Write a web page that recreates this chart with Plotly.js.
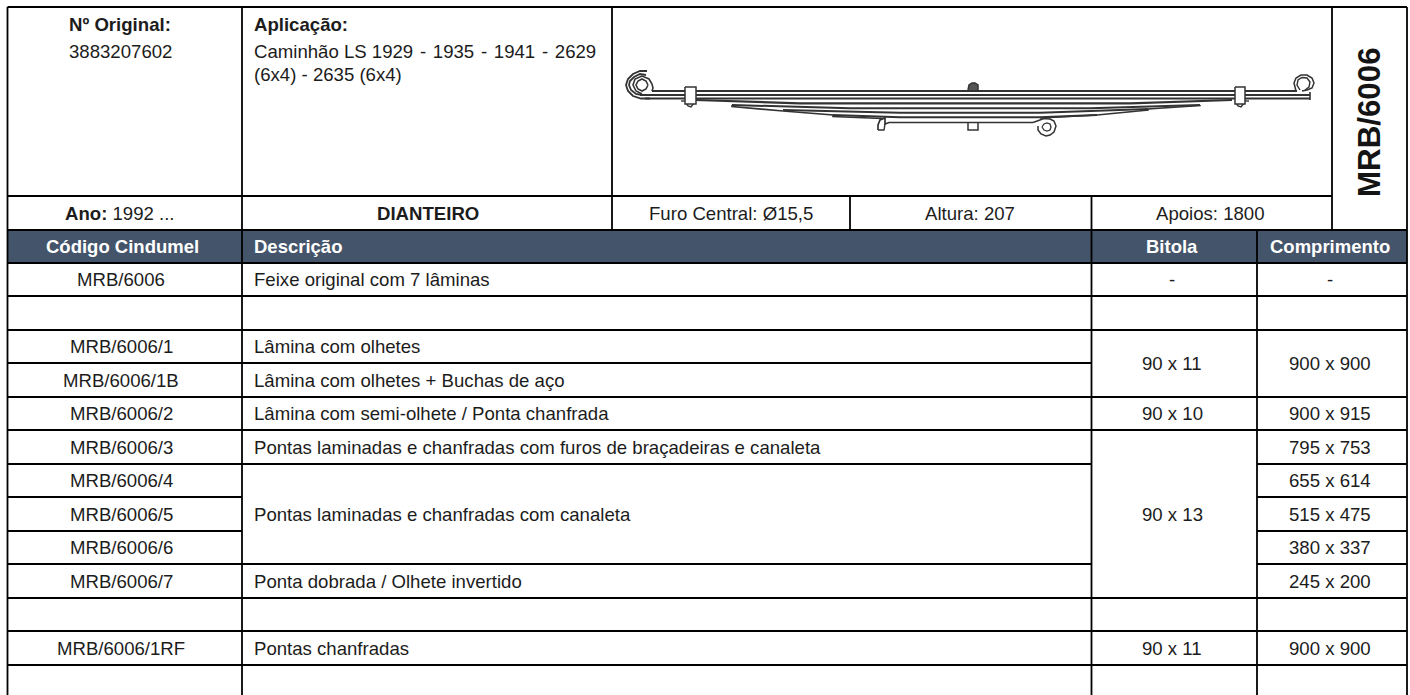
<!DOCTYPE html>
<html><head><meta charset="utf-8">
<script src="https://cdn.plot.ly/plotly-3.0.1.min.js"></script>
<style>html,body{margin:0;padding:0;background:#fff}#c{width:1410px;height:695px}</style>
</head><body><div id="c"></div>
<script>
// ---- table content ----
const columnHeaders = ["Código Cindumel","Descrição","Bitola","Comprimento"];
const codes = ["MRB/6006","","MRB/6006/1","MRB/6006/1B","MRB/6006/2","MRB/6006/3","MRB/6006/4","MRB/6006/5","MRB/6006/6","MRB/6006/7","","MRB/6006/1RF",""];
const descriptions = ["Feixe original com 7 lâminas","","Lâmina com olhetes","Lâmina com olhetes + Buchas de aço","Lâmina com semi-olhete / Ponta chanfrada","Pontas laminadas e chanfradas com furos de braçadeiras e canaleta","Pontas laminadas e chanfradas com canaleta",null,null,"Ponta dobrada / Olhete invertido","","Pontas chanfradas",""];
const descriptionSpans = [1,1,1,1,1,1,3,0,0,1,1,1,1];
const gauges = ["-","","90 x 11",null,"90 x 10","90 x 13",null,null,null,null,"","90 x 11",""];
const gaugeSpans = [1,1,2,0,1,5,0,0,0,0,1,1,1];
const lengths = ["-","","900 x 900",null,"900 x 915","795 x 753","655 x 614","515 x 475","380 x 337","245 x 200","","900 x 900",""];
const lengthSpans = [1,1,2,0,1,1,1,1,1,1,1,1,1];
const partTitle = "MRB/6006";
const originalLabel = "Nº Original:", originalValue = "3883207602";
const applicationLabel = "Aplicação:";
const applicationLines = ["Caminhão LS 1929\u200A - \u200A1935\u200A - \u200A1941\u200A - \u200A2629","(6x4) - 2635 (6x4)"];
const infoRow = ["<b>Ano:</b> 1992 ...","<b>DIANTEIRO</b>","Furo Central: Ø15,5","Altura: 207","Apoios: 1800"];
const infoCenters = [120,428,731,970,1210];

// ---- leaf spring line drawing ----
const springLines = [
 // long leaves
 {x:[652,1297],y:[91,91],w:2},
 {x:[640,1310],y:[95,95],w:2},
 {x:[645,1310],y:[98.5,98.5],w:2.2},
 // tapered leaves, top faces
 {x:[695,800,1130,1232],y:[100,103.3,103.3,100],w:2.2},
 {x:[732,850,1090,1200],y:[105,108.3,108.3,105],w:2},
 {x:[783,900,1040,1148],y:[110,112.7,112.7,109],w:2},
 {x:[833,900,1040,1097],y:[115,117.3,117.3,115],w:2},
 // lower envelope with the stepped tips
 {x:[732,732,783,783,833,833,882],y:[105,106.5,111,111,115,116.5,118.5],w:1.6},
 {x:[1040,1097,1097,1148,1148,1200,1200],y:[118,115.5,115,110,109,105.5,105],w:1.6},
 // left eye
 {x:[647,640,633,628,626,628,633,641,650],y:[71,71,74,79,85,91,96,98.5,98.5],w:1.8},
 {x:[646,640,634,630,629,631,636,642,652],y:[75,74,77,81,85,90,94,95,95],w:1.8},
 {x:[642,636,633,635,642,649,652,653,652],y:[94,91,85,79,76,79,84,88,91],w:1.6},
 {x:[648,646,642,638,636,638,642,646,648],y:[85,81,79,81,85,89,91,89,85],w:1.6},
 // right eye
 {x:[1296,1295,1294,1296,1301,1307,1312,1314,1312,1307,1302],y:[91,87,83,78,75,75,78,83,88,90,91],w:1.5},
 {x:[1300,1297,1298,1302,1307,1310,1309,1305],y:[90,85,80,77.5,78,82,87,90],w:1.4},
 {x:[1310,1310],y:[92,100],w:1.6},
 // bent leaf with hook and rear eye
 {x:[878,878,880,885,885,889,1033],y:[130,125,120,118,124,122.5,122.5],w:1.7},
 {x:[878,884,885],y:[130,130,124],w:1.4},
 {x:[1033,1037,1040,1044,1050,1054,1056,1054,1050,1046,1041,1038,1038],y:[122.5,121,120,118.5,119,121,126,132,135,136,134,130,126],w:1.5},
 {x:[1042,1044,1047,1050,1051,1050,1047,1044,1042],y:[127,124,123,124,127,130,131,130,127],w:1.3},
 // centre bolt and pin
 {x:[968,969,972,975,978,978],y:[90,85,83,83,85,90],w:1.5,fill:"#555"},
 {x:[968,968,978,978],y:[123,130,130,123],w:1.5},
 // clamps, white on top of the leaves
 {x:[681,685],y:[101,101],w:1.4},
 {x:[686,688,691,694],y:[103,106,107,103],w:1.4},
 {x:[685,696,696,685,685],y:[87,87,104,104,87],w:1.5,fill:"#fff"},
 {x:[1245,1249],y:[101,101],w:1.4},
 {x:[1236,1238,1241,1244],y:[103,106,107,103],w:1.4},
 {x:[1235,1245,1245,1235,1235],y:[87,87,104,104,87],w:1.5,fill:"#fff"}
];

// ---- grid geometry ----
const rowEdges = [263,296,330,363,397,430,464,497,531,564,598,631,665,695];
const colX = {left:7.5, code:242, desc:1091.5, gauge:1257, right:1407};
const colCenters = {code:121, gauge:1172, length:1330};
const descLeft = 253;
const ln = {color:"#000", width:1.8};
const shapes = [];
function seg(x0,y0,x1,y1){shapes.push({type:"line",xref:"x",yref:"y",x0,y0,x1,y1,line:ln,layer:"above"});}

shapes.push({type:"rect",xref:"x",yref:"y",x0:colX.left,x1:colX.right,y0:230,y1:263,fillcolor:"#44546A",line:{width:0},layer:"below"});
seg(colX.left,7,colX.right,7);
seg(colX.left,196,1332,196);
seg(colX.left,230,colX.right,230);
seg(colX.left,263,colX.right,263);
seg(colX.left,7,colX.left,695);
seg(colX.right,7,colX.right,695);
seg(colX.code,7,colX.code,695);
seg(612,7,612,230);
seg(1332,7,1332,230);
seg(850,196,850,230);
seg(colX.desc,196,colX.desc,695);
seg(colX.gauge,230,colX.gauge,695);
// row rules, interrupted where cells are merged
rowEdges.forEach((y,i)=>{
  if(i===0||i===rowEdges.length-1) return;
  seg(colX.left,y,colX.code,y);
  if(descriptionSpans[i]!==0) seg(colX.code,y,colX.desc,y);
  if(gaugeSpans[i]!==0) seg(colX.desc,y,colX.gauge,y);
  if(lengthSpans[i]!==0) seg(colX.gauge,y,colX.right,y);
});

const ann = [];
const FAMILY = "Liberation Sans, Arial, sans-serif";
function txt(text,x,y,o={}){
  ann.push(Object.assign({text,x,y,xref:"x",yref:"y",showarrow:false,xanchor:"center",yanchor:"middle",borderpad:0,
    font:{family:FAMILY,size:18.6,color:"#1c1c1c"}},o));
}
function mid(i,span){return (rowEdges[i]+rowEdges[i+span])/2;}
const headFont = {family:FAMILY,size:18.5,color:"#fff"};
txt("<b>"+columnHeaders[0]+"</b>",122,246.5,{font:headFont});
txt("<b>"+columnHeaders[1]+"</b>",descLeft,246.5,{font:headFont,xanchor:"left"});
txt("<b>"+columnHeaders[2]+"</b>",colCenters.gauge,246.5,{font:headFont});
txt("<b>"+columnHeaders[3]+"</b>",1330,246.5,{font:headFont});

codes.forEach((c,i)=>{ if(c) txt(c,colCenters.code,mid(i,1)); });
descriptions.forEach((d,i)=>{ if(d) txt(d,descLeft,mid(i,descriptionSpans[i]),{xanchor:"left"}); });
gauges.forEach((g,i)=>{ if(g) txt(g,colCenters.gauge,mid(i,gaugeSpans[i])); });
lengths.forEach((l,i)=>{ if(l) txt(l,colCenters.length,mid(i,lengthSpans[i])); });

txt("<b>"+originalLabel+"</b>",120,24);
txt(originalValue,120,51);
txt("<b>"+applicationLabel+"</b>",253,24,{xanchor:"left"});
txt(applicationLines[0],253,51,{xanchor:"left"});
txt(applicationLines[1],253,74,{xanchor:"left"});
infoRow.forEach((t,i)=>txt(t,infoCenters[i],213));
txt("<b>"+partTitle+"</b>",1369,122,{textangle:-90,font:{family:FAMILY,size:31.3,color:"#141414"}});

const traces = springLines.map(s=>({type:"scatter",mode:"lines",x:s.x,y:s.y,
  line:{color:"#333",width:s.w},
  fill:s.fill?"toself":"none",fillcolor:s.fill||undefined,
  hoverinfo:"skip",showlegend:false}));

Plotly.newPlot("c",traces,{
  width:1410,height:695,margin:{l:0,r:0,t:0,b:0,pad:0},
  paper_bgcolor:"#fff",plot_bgcolor:"#fff",showlegend:false,
  xaxis:{range:[0,1410],visible:false,fixedrange:true},
  yaxis:{range:[695,0],visible:false,fixedrange:true},
  shapes,annotations:ann
},{displayModeBar:false,staticPlot:true});
</script></body></html>
